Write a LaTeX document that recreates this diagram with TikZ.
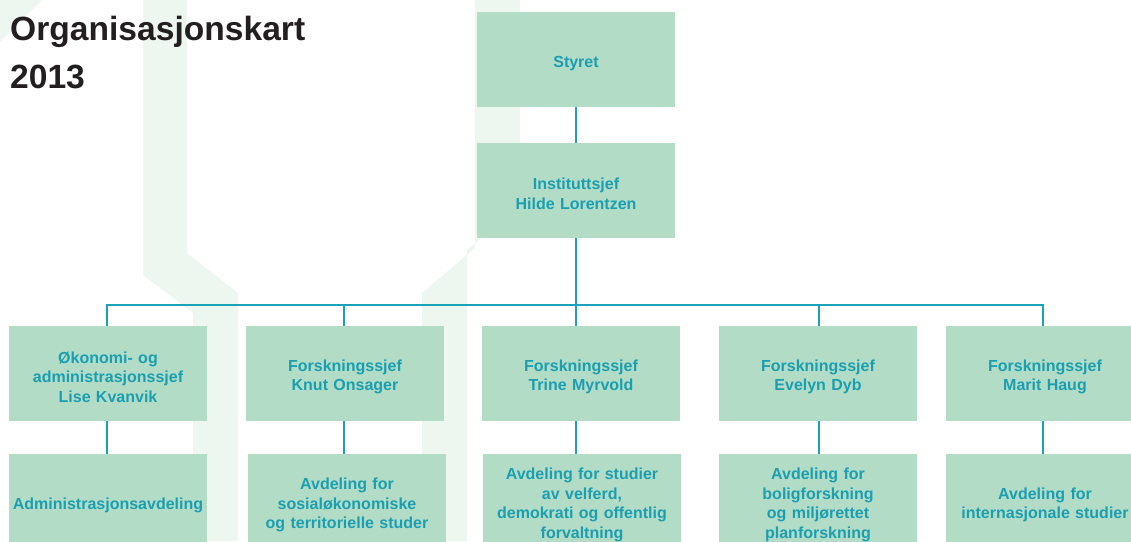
\documentclass[tikz,border=0pt]{standalone}
\usepackage{fontspec}
\setmainfont{Liberation Sans}
\usepackage{xcolor}
\usetikzlibrary{positioning}

\definecolor{boxgreen}{HTML}{B3DCC6}
\definecolor{orgteal}{HTML}{1A9FB1}
\definecolor{lineteal}{HTML}{19A2B8}
\definecolor{pale}{HTML}{EEF6F0}
\definecolor{titlegrey}{HTML}{231F20}

\tikzset{
	orgbox/.style={rectangle, fill=boxgreen, text=orgteal, font=\bfseries\fontsize{16}{19.5}\selectfont, align=center, text width=196pt, text height=18.5pt, inner sep=1pt, minimum height=95pt},
	orgline/.style={color=lineteal, line width=1.8pt},
	orgtitle/.style={text=titlegrey, font=\bfseries\fontsize{33.6}{48}\selectfont, align=left, inner sep=0pt, anchor=base west}
}

\begin{document}
\begin{tikzpicture}[x=1pt, y=-1pt, node distance=128pt]
			\useasboundingbox (0,0) rectangle (1131,541);
			\clip (0,0) rectangle (1131,541);

			\fill[pale] (0,0) -- (42,0) -- (0,42) -- cycle;
			\fill[pale] (143,0) -- (187,0) -- (187,253) -- (238,293) -- (238,541) -- (193,541) -- (193,313) -- (143,275) -- cycle;
			\fill[pale] (475,0) -- (520,0) -- (520,205) -- (467,250) -- (467,541) -- (422,541) -- (422,293) -- (475,248) -- cycle;

			\node[orgtitle] (0) at (10,88) {Organisasjonskart\\2013};

			\node[orgbox] (1) at (576,59.5) {Styret};
			\node[orgbox] (2)[below of = 1, yshift=-3] {Instituttsjef\\Hilde Lorentzen};

			\node[orgbox] (3) at (108,373.5) {Økonomi- og\\administrasjonssjef\\Lise Kvanvik};
			\node[orgbox] (4) at (345,373.5) {Forskningssjef\\Knut Onsager};
			\node[orgbox] (5) at (581,373.5) {Forskningssjef\\Trine Myrvold};
			\node[orgbox] (6) at (818,373.5) {Forskningssjef\\Evelyn Dyb};
			\node[orgbox] (7) at (1045,373.5) {Forskningssjef\\Marit Haug};

			\node[orgbox] (8)[below of = 3] {Administrasjonsavdeling};
			\node[orgbox] (9)[below of = 4, xshift=2] {Avdeling for\\sosialøkonomiske\\og territorielle studer};
			\node[orgbox] (10)[below of = 5, xshift=1] {Avdeling for studier\\av velferd,\\demokrati og offentlig\\forvaltning};
			\node[orgbox] (11)[below of = 6] {Avdeling for\\boligforskning\\og miljørettet\\planforskning};
			\node[orgbox] (12)[below of = 7] {Avdeling for\\internasjonale studier};

			\coordinate (b1) at (107,305);
			\coordinate (b2) at (344,305);
			\coordinate (b3) at (576,305);
			\coordinate (b4) at (819,305);
			\coordinate (b5) at (1043,305);

			\draw[orgline] (b1 |- 3.north) -- (b1) -- (b5) -- (b5 |- 7.north);

			\path[orgline]
				(1) edge (2)
				(2) edge (b3)

				(b2) edge (b2 |- 4.north)
				(b3) edge (b3 |- 5.north)
				(b4) edge (b4 |- 6.north)

				(b1 |- 3.south) edge (b1 |- 8.north)
				(b2 |- 4.south) edge (b2 |- 9.north)
				(b3 |- 5.south) edge (b3 |- 10.north)
				(b4 |- 6.south) edge (b4 |- 11.north)
				(b5 |- 7.south) edge (b5 |- 12.north)
			;
		\end{tikzpicture}
\end{document}
